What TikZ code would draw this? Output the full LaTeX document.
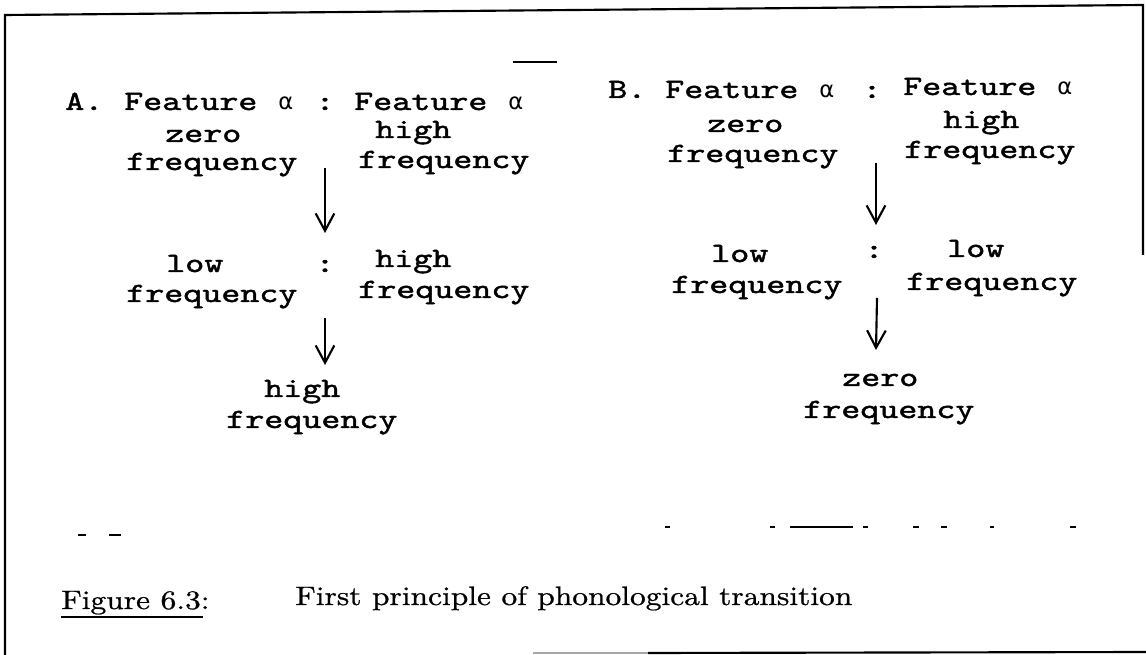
\documentclass[tikz,border=0pt]{standalone}
\usepackage{fontspec}
\usetikzlibrary{arrows.meta}
% typewriter face for the feature table, widened to a Courier-like pitch
\newfontfamily\typer{lmmono10-regular}[Extension=.otf,FakeStretch=1.3,FakeBold=1.6]
% printed serif for the caption, a little wider and heavier than plain Latin Modern
\newfontfamily\captfont{lmroman10-regular}[Extension=.otf,FakeStretch=1.18,FakeBold=0.8]
\newfontfamily\grk{DejaVu Sans}
\newcommand\al{\makebox[14.25pt]{\grk\fontsize{17pt}{20pt}\selectfont α}}
\tikzset{
  tw/.style={font={\typer\fontsize{20.9pt}{24pt}\selectfont}, anchor=base west, inner sep=0pt},
  twc/.style={tw, anchor=base},
  capt/.style={font={\captfont\fontsize{20pt}{24pt}\selectfont}, anchor=base west, inner sep=0pt},
  flow/.style={line width=1.6pt, -{Straight Barb[length=13pt,width=14pt,line width=1.6pt]}},
  frameline/.style={line width=1.6pt},
  speck/.style={line width=1.2pt},
}
\begin{document}
\begin{tikzpicture}[x=0.75pt,y=-0.75pt]
\useasboundingbox (0,0) rectangle (1146,655);

% page frame
\draw[frameline] (5,655) -- (5,15) -- (1143,5) -- (1143,255);
\draw[line width=0.8pt, black!35] (533,653) -- (648,653);
\draw[frameline] (648,653) -- (1146,652);

% stray marks
\draw[speck] (513,62) -- (557,62);
\foreach \a/\b in {78/86,109/121} \draw[speck] (\a,535) -- (\b,535);
\foreach \a/\b in {665/670,770/775,790/853,863/868,913/919,941/947,990/994,1070/1076}
  \draw[speck] (\a,527) -- (\b,527);

% ---- A ----
\node[tw] (a)   at (65,110)  {A.};
\node[tw] (aL1) at (124,110) {Feature \al};
\node[twc] (ac1) at (325,110) {:};
\node[tw] (aR1) at (354,110) {Feature \al};
\node[tw] (aL2) at (165,142) {zero};
\node[tw] (aR2) at (375,138) {high};
\node[tw] (aL3) at (126,170) {frequency};
\node[tw] (aR3) at (358,168) {frequency};
\node[tw] (aL4) at (166,272) {low};
\node[twc] (ac2) at (325,272) {:};
\node[tw] (aR4) at (375,267) {high};
\node[tw] (aL5) at (126,302) {frequency};
\node[tw] (aR5) at (358,298) {frequency};
\node[tw] (aE1) at (264,397) {high};
\node[tw] (aE2) at (226,428) {frequency};
\coordinate (a1s) at (325,168);
\coordinate (a1e) at (325,233);
\coordinate (a2s) at (325,318);
\coordinate (a2e) at (325,365);
\draw[flow] (a1s) -- (a1e);
\draw[flow] (a2s) -- (a2e);

% ---- B ----
\node[tw] (b)   at (608,98)  {B.};
\node[tw] (bL1) at (665,98)  {Feature \al};
\node[twc] (bc1) at (872,98) {:};
\node[tw] (bR1) at (903,95)  {Feature \al};
\node[tw] (bL2) at (707,132) {zero};
\node[tw] (bR2) at (943,128) {high};
\node[tw] (bL3) at (667,162) {frequency};
\node[tw] (bR3) at (904,158) {frequency};
\node[tw] (bL4) at (711,262) {low};
\node[twc] (bc2) at (874,258) {:};
\node[tw] (bR4) at (947,257) {low};
\node[tw] (bL5) at (671,293) {frequency};
\node[tw] (bR5) at (906,290) {frequency};
\node[tw] (bE1) at (842,386) {zero};
\node[tw] (bE2) at (803,418) {frequency};
\coordinate (b1s) at (876,163);
\coordinate (b1e) at (876,225);
\coordinate (b2s) at (877,298);
\coordinate (b2e) at (876,350);
\draw[flow] (b1s) -- (b1e);
\draw[flow] (b2s) -- (b2e);

% ---- caption ----
\node[capt] (fig)   at (61,609)  {Figure 6.3:};
\node[capt] (title) at (295,605) {First principle of phonological transition};
\draw[line width=1.1pt] ([yshift=-6pt]fig.base west) -- ([xshift=-5pt,yshift=-6pt]fig.base east);
\end{tikzpicture}
\end{document}
